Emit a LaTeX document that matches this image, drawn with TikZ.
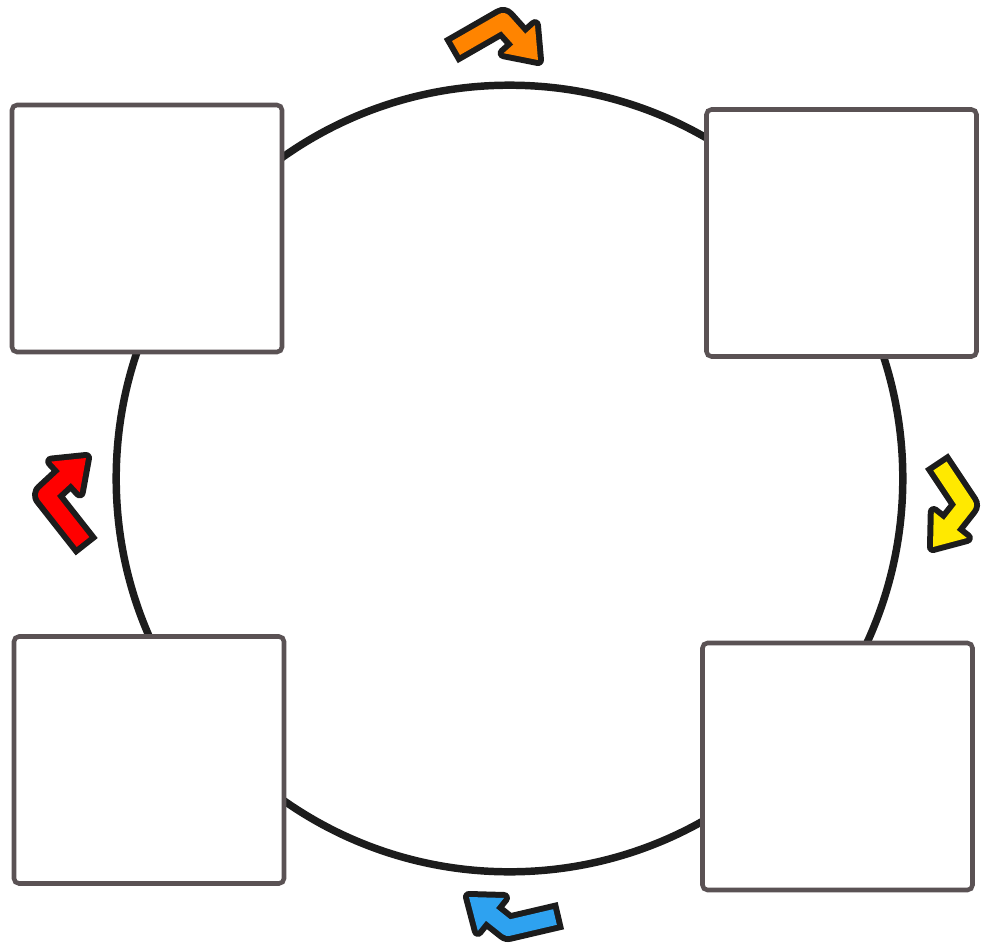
\documentclass[tikz,border=0pt]{standalone}
\usetikzlibrary{calc}
\definecolor{ringink}{HTML}{1C1C1C}
\definecolor{panelgray}{HTML}{5A5254}
\definecolor{arrOrange}{HTML}{FF8400}
\definecolor{arrYellow}{HTML}{FFE900}
\definecolor{arrBlue}{HTML}{2EA2F0}
\definecolor{arrRed}{HTML}{FF0000}

\begin{document}
\begin{tikzpicture}[x=.75pt,y=-.75pt,
  ring/.style={draw=ringink,line width=5.6pt},
  panel/.style={draw=panelgray,fill=white,line width=3.4pt,rounded corners=3.75pt,
    minimum width=202.5pt,minimum height=185.25pt,inner sep=0pt},
  rim/.style={draw=ringink,line width=21pt,line join=round},
  shaft/.style={line width=12pt,line join=round}]
\useasboundingbox (0,0) rectangle (982,946);
% The cycle ring sits behind the four panels.
\draw[ring] (509.5,478.5) circle (393.3);
\node[panel] (nw) at (147,228.5) {};
\node[panel] (ne) at (841.5,233) {};
\node[panel] (sw) at (149,760) {};
\node[panel] (se) at (837.5,766.5) {};

% Bent arrows between the panels: tail, bend and tip of each.
\coordinate (o-tail) at (456,48);  \coordinate (o-bend) at (503,21);  \coordinate (o-tip) at (538,60);
\coordinate (y-tail) at (940,466); \coordinate (y-bend) at (966,505); \coordinate (y-tip) at (933,547);
\coordinate (b-tail) at (555,917); \coordinate (b-bend) at (508,928); \coordinate (b-tip) at (469,897);
\coordinate (r-tail) at (83,542);  \coordinate (r-bend) at (46,495);  \coordinate (r-tip) at (86,458);
\foreach \a/\c in {o/arrOrange,y/arrYellow,b/arrBlue,r/arrRed}{
  \coordinate (\a-base) at ($(\a-tip)!21pt!(\a-bend)$);
  \coordinate (\a-w1) at ($(\a-base)!15.75pt!90:(\a-tip)$);
  \coordinate (\a-w2) at ($(\a-base)!15.75pt!-90:(\a-tip)$);
  \draw[rim,shorten <=-4.5pt] (\a-tail) -- (\a-bend) -- (\a-base);
  \filldraw[ringink,line width=9pt,line join=round] (\a-tip) -- (\a-w1) -- (\a-w2) -- cycle;
  \fill[\c] (\a-tip) -- (\a-w1) -- (\a-w2) -- cycle;
  \draw[shaft,\c] (\a-tail) -- (\a-bend) -- ($(\a-base)!3pt!(\a-tip)$);
}
\end{tikzpicture}
\end{document}
